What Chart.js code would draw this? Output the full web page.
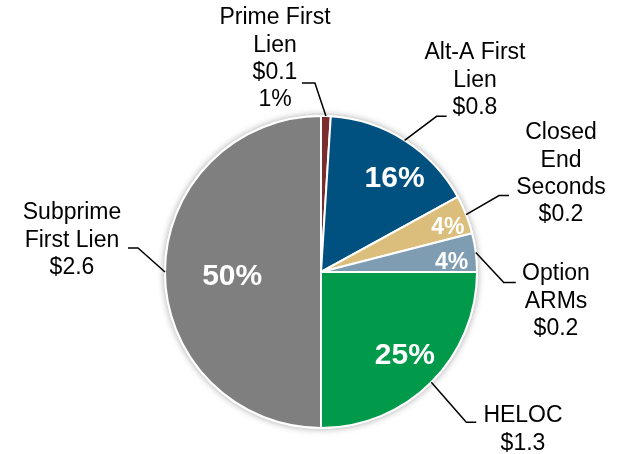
<!DOCTYPE html>
<html>
<head>
<meta charset="utf-8">
<script src="https://cdn.jsdelivr.net/npm/chart.js@4"></script>
<style>
  html, body { margin: 0; padding: 0; background: #fff; }
  #wrap { width: 621px; height: 454px; }
</style>
</head>
<body>
<div id="wrap"><canvas id="pie" width="621" height="454"></canvas></div>
<script>
// Loan categories, clockwise from 12 o'clock
const categories = ['Prime First Lien', 'Alt-A First Lien', 'Closed End Seconds', 'Option ARMs', 'HELOC', 'Subprime First Lien'];
const shares = [1, 16, 4, 4, 25, 50];            // percent of total
const amounts = ['$0.1', '$0.8', '$0.2', '$0.2', '$1.3', '$2.6'];
const sliceColors = ['#7B2C2C', '#00517F', '#DBBE7C', '#7F9DB2', '#009A4A', '#7F7F80'];

// outside label blocks: text lines, anchor (centre x, first line y), leader elbow offset and tail
const outerLabels = [
    { lines: ['Prime First', 'Lien', amounts[0], shares[0] + '%'], x: 275, y: 18, elbow: [-11, -33], tail: -13 },
    { lines: ['Alt-A First', 'Lien', amounts[1]], x: 475, y: 53, elbow: [32, -24], tail: 10 },
    { lines: ['Closed', 'End', 'Seconds', amounts[2]], x: 561, y: 133, elbow: [33, -19], tail: 10 },
    { lines: ['Option', 'ARMs', amounts[3]], x: 556, y: 274, elbow: [28, 30], tail: 12 },
    { lines: ['HELOC', amounts[4]], x: 523, y: 416, elbow: [35, 40], tail: 10 },
    { lines: ['Subprime', 'First Lien', amounts[5]], x: 72, y: 213, elbow: [-27, -24], tail: -10 }
];

// inside percent labels: radius fraction, angle nudge (deg), font size; null = none
const innerLabels = [
    null,
    { r: 0.76, nudge: 6, size: 30 },
    { r: 0.86, nudge: 2.5, size: 23 },
    { r: 0.84, nudge: 3, size: 23 },
    { r: 0.76, nudge: 0, size: 30 },
    { r: 0.57, nudge: -3, size: 30 }
];

const FONT = '"Liberation Sans", Arial, sans-serif';
const LINE_H = 27.3;

const pieShadow = {
    id: 'pieShadow',
    beforeDatasetsDraw(chart) {
        const arc = chart.getDatasetMeta(0).data[0];
        if (!arc) return;
        const { x, y, outerRadius } = arc.getProps(['x', 'y', 'outerRadius'], true);
        const ctx = chart.ctx;
        ctx.save();
        ctx.shadowColor = 'rgba(0,0,0,0.35)';
        ctx.shadowBlur = 7;
        ctx.fillStyle = '#ffffff';
        ctx.beginPath();
        ctx.arc(x, y, outerRadius + 1, 0, Math.PI * 2);
        ctx.fill();
        ctx.restore();
    }
};

const sliceLabels = {
    id: 'sliceLabels',
    afterDatasetsDraw(chart) {
        const ctx = chart.ctx;
        const arcs = chart.getDatasetMeta(0).data;
        ctx.save();
        arcs.forEach((arc, i) => {
            const p = arc.getProps(['x', 'y', 'startAngle', 'endAngle', 'outerRadius'], true);
            const mid = (p.startAngle + p.endAngle) / 2;

            // percent inside the slice
            const inner = innerLabels[i];
            if (inner) {
                const a = mid + inner.nudge * Math.PI / 180;
                const rr = p.outerRadius * inner.r;
                ctx.fillStyle = '#ffffff';
                ctx.font = 'bold ' + inner.size + 'px ' + FONT;
                ctx.textAlign = 'center';
                ctx.textBaseline = 'middle';
                ctx.fillText(shares[i] + '%', p.x + Math.cos(a) * rr, p.y + Math.sin(a) * rr);
            }

            // leader line from the rim
            const lab = outerLabels[i];
            const sx = p.x + Math.cos(mid) * p.outerRadius;
            const sy = p.y + Math.sin(mid) * p.outerRadius;
            const ex = sx + lab.elbow[0];
            const ey = sy + lab.elbow[1];
            ctx.strokeStyle = '#000000';
            ctx.lineWidth = 1.5;
            ctx.beginPath();
            ctx.moveTo(sx, sy);
            ctx.lineTo(ex, ey);
            ctx.lineTo(ex + lab.tail, ey);
            ctx.stroke();

            // outside text block
            ctx.fillStyle = '#000000';
            ctx.font = '23px ' + FONT;
            ctx.textAlign = 'center';
            ctx.textBaseline = 'middle';
            lab.lines.forEach((t, k) => ctx.fillText(t, lab.x, lab.y + k * LINE_H));
        });
        ctx.restore();
    }
};

new Chart(document.getElementById('pie').getContext('2d'), {
    type: 'pie',
    data: {
        labels: categories,
        datasets: [{
            data: shares,
            backgroundColor: sliceColors,
            borderColor: '#ffffff',
            borderWidth: 2
        }]
    },
    options: {
        responsive: false,
        animation: false,
        layout: { padding: { left: 164, right: 143, top: 115, bottom: 25 } },
        plugins: {
            legend: { display: false },
            tooltip: { enabled: false }
        }
    },
    plugins: [pieShadow, sliceLabels]
});
</script>
</body>
</html>
